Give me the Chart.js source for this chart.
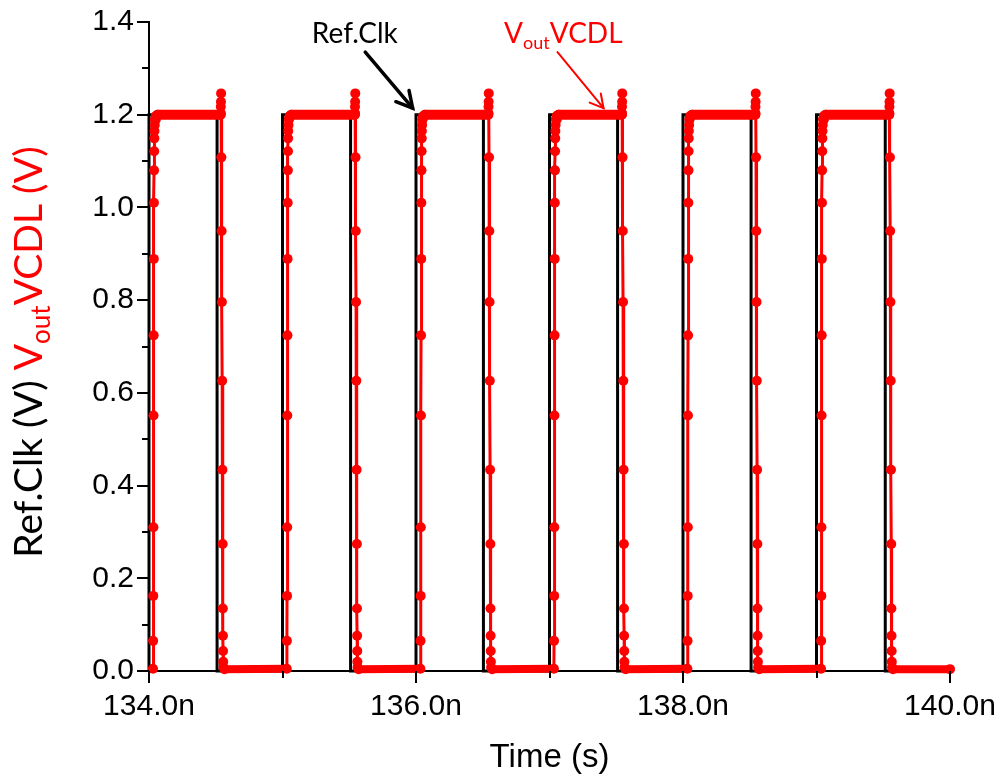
<!DOCTYPE html>
<html><head><meta charset="utf-8">
<script src="https://cdn.jsdelivr.net/npm/chart.js@4.4.1/dist/chart.umd.min.js"></script>
<style>html,body{margin:0;padding:0;background:#fff;}#wrap{position:relative;width:1001px;height:780px;}</style>
</head><body><div id="wrap"><canvas id="c" width="1001" height="780"></canvas></div>
<script>
// ---- data ----
const xMajorTicks = [134, 136, 138, 140];
const xMinorTicks = [135, 137, 139];
const xTickLabels = ['134.0n', '136.0n', '138.0n', '140.0n'];
const yTickValues = [0.0, 0.2, 0.4, 0.6, 0.8, 1.0, 1.2, 1.4];
const yTickLabels = ['0.0', '0.2', '0.4', '0.6', '0.8', '1.0', '1.2', '1.4'];
const yMinorTicks = [0.1, 0.3, 0.5, 0.7, 0.9, 1.1, 1.3];

// Ref.Clk square wave edges (ns) and levels (V)
const clkRise = [134.0, 135.0, 136.0, 137.0, 138.0, 139.0];
const clkFall = [134.51, 135.51, 136.505, 137.51, 138.51, 139.515];
const clkHigh = 1.2;
const clkLow = 0.0;

// VoutVCDL edges (ns) and measured edge shapes (offset ns, value V)
const vcdlRise = [134.030, 135.032, 136.033, 137.033, 138.033, 139.034];
const vcdlFall = [134.540, 135.545, 136.545, 137.545, 138.545, 139.548];
const riseDt = [0, 0.001, 0.002, 0.003, 0.004, 0.005, 0.006, 0.007, 0.008, 0.009, 0.010, 0.011, 0.013, 0.016, 0.022, 0.035];
const riseV  = [0.005, 0.065, 0.162, 0.31, 0.551, 0.724, 0.889, 1.01, 1.08, 1.121, 1.149, 1.165, 1.178, 1.19, 1.197, 1.2];
const fallDt = [-0.004, -0.003, -0.002, -0.001, 0, 0.002, 0.004, 0.006, 0.008, 0.010, 0.012, 0.013, 0.014, 0.015, 0.016, 0.018, 0.025];
const fallV  = [1.2, 1.203, 1.217, 1.228, 1.246, 1.108, 0.949, 0.796, 0.626, 0.434, 0.274, 0.135, 0.076, 0.043, 0.02, 0.008, 0.004];
const vcdlLow = 0.004;
const xMin = 134, xMax = 140;

// ---- build series ----
const clkData = [];
clkRise.forEach((r, i) => {
  clkData.push({x: r, y: clkLow}, {x: r, y: clkHigh}, {x: clkFall[i], y: clkHigh}, {x: clkFall[i], y: clkLow});
});
clkData.push({x: xMax, y: clkLow});

const vcdlData = [];
vcdlRise.forEach((r, i) => {
  riseDt.forEach((d, k) => vcdlData.push({x: +(r + d).toFixed(4), y: riseV[k]}));
  fallDt.forEach((d, k) => vcdlData.push({x: +(vcdlFall[i] + d).toFixed(4), y: fallV[k]}));
});
vcdlData.push({x: xMax, y: vcdlLow});

const RED = '#ff0000';

const decor = {
  id: 'decor',
  afterDraw(chart) {
    const {ctx, scales: {x, y}} = chart;
    ctx.save();
    // tick marks
    ctx.strokeStyle = '#000'; ctx.lineWidth = 2; ctx.lineCap = 'butt';
    const tick = (x1, y1, x2, y2) => { ctx.beginPath(); ctx.moveTo(x1, y1); ctx.lineTo(x2, y2); ctx.stroke(); };
    xMajorTicks.forEach(v => { const p = Math.round(x.getPixelForValue(v)); tick(p, y.bottom, p, y.bottom + 12); });
    xMinorTicks.forEach(v => { const p = Math.round(x.getPixelForValue(v)); tick(p, y.bottom, p, y.bottom + 7); });
    yTickValues.forEach(v => { const p = Math.round(y.getPixelForValue(v)); tick(x.left - 12, p, x.left, p); });
    yMinorTicks.forEach(v => { const p = Math.round(y.getPixelForValue(v)); tick(x.left - 7, p, x.left, p); });

    // annotation arrows
    const arrow = (tx, ty, hx, hy, color, w, head) => {
      const x0 = x.getPixelForValue(tx), y0 = y.getPixelForValue(ty);
      const x1 = x.getPixelForValue(hx), y1 = y.getPixelForValue(hy);
      ctx.strokeStyle = color; ctx.lineWidth = w; ctx.lineCap = 'round'; ctx.lineJoin = 'miter';
      tick(x0, y0, x1, y1);
      const a = Math.atan2(y1 - y0, x1 - x0);
      ctx.beginPath();
      ctx.moveTo(x1 - head * Math.cos(a - 0.5), y1 - head * Math.sin(a - 0.5));
      ctx.lineTo(x1, y1);
      ctx.lineTo(x1 - head * Math.cos(a + 0.5), y1 - head * Math.sin(a + 0.5));
      ctx.stroke();
    };
    arrow(135.62, 1.335, 135.975, 1.214, '#000', 3.5, 18);
    arrow(137.06, 1.335, 137.405, 1.214, RED, 2, 15);

    // annotation texts
    ctx.textBaseline = 'alphabetic'; ctx.textAlign = 'left';
    ctx.font = '28px Lato';
    ctx.fillStyle = '#000';
    ctx.fillText('Ref.Clk', x.getPixelForValue(135.22), y.getPixelForValue(1.355));
    let px = x.getPixelForValue(136.66), py = y.getPixelForValue(1.355);
    ctx.fillStyle = RED;
    ctx.fillText('V', px, py); px += ctx.measureText('V').width;
    ctx.font = '18px Lato'; ctx.fillText('out', px, py + 6); px += ctx.measureText('out').width;
    ctx.font = '28px Lato'; ctx.fillText('VCDL', px, py);

    // y axis title (rotated, two colours)
    ctx.translate(42, 352); ctx.rotate(-Math.PI / 2);
    const parts = [
      {t: 'Ref.Clk (V) ', c: '#000', f: '39px Lato', dy: 0},
      {t: 'V', c: RED, f: '39px Lato', dy: 0},
      {t: 'out', c: RED, f: '26px Lato', dy: 8},
      {t: 'VCDL (V)', c: RED, f: '39px Lato', dy: 0}
    ];
    let total = 0;
    parts.forEach(p => { ctx.font = p.f; p.w = ctx.measureText(p.t).width; total += p.w; });
    let cx = -total / 2;
    parts.forEach(p => { ctx.font = p.f; ctx.fillStyle = p.c; ctx.fillText(p.t, cx, p.dy); cx += p.w; });
    ctx.restore();
  }
};

new Chart(document.getElementById('c'), {
  type: 'line',
  data: {
    datasets: [
      {
        label: 'VoutVCDL', data: vcdlData, order: 0,
        borderColor: RED, backgroundColor: RED, borderWidth: 3,
        pointRadius: 5, pointBackgroundColor: RED, pointBorderWidth: 0,
        borderJoinStyle: 'round', borderCapStyle: 'round', tension: 0, clip: false,
        segment: {
          borderWidth: c => Math.abs(c.p0.parsed.y - c.p1.parsed.y) < 0.01 ? (c.p0.parsed.y > 0.6 ? 10 : 8) : 3
        }
      },
      {
        label: 'Ref.Clk', data: clkData, order: 1,
        borderColor: '#000', borderWidth: 3, pointRadius: 0, tension: 0,
        borderJoinStyle: 'miter', clip: false
      }
    ]
  },
  options: {
    responsive: false, animation: false, events: [],
    layout: {padding: {top: 22, right: 51, left: 0, bottom: 0}},
    plugins: {legend: {display: false}, tooltip: {enabled: false}},
    scales: {
      x: {
        type: 'linear', min: xMin, max: xMax,
        afterFit: s => { s.height = 109; s.paddingLeft = 0; s.paddingRight = 0; },
        afterBuildTicks: s => { s.ticks = xMajorTicks.map(v => ({value: v})); },
        ticks: {
          callback: (v) => { const i = xMajorTicks.indexOf(v); return i >= 0 ? xTickLabels[i] : ''; },
          font: {family: 'Liberation Sans', size: 30}, color: '#000', padding: 18, maxRotation: 0, autoSkip: false
        },
        grid: {display: true, drawOnChartArea: false, drawTicks: false},
        border: {display: true, color: '#000', width: 2},
        title: {display: true, text: 'Time (s)', color: '#000', font: {family: 'Liberation Sans', size: 33}, padding: {top: 0, bottom: 2}}
      },
      y: {
        type: 'linear', min: 0, max: 1.4,
        afterFit: s => { s.width = 149; s.paddingTop = 0; s.paddingBottom = 0; },
        afterBuildTicks: s => { s.ticks = yTickValues.map(v => ({value: v})); },
        ticks: {
          callback: (v) => { const i = yTickValues.findIndex(t => Math.abs(t - v) < 1e-6); return i >= 0 ? yTickLabels[i] : ''; },
          font: {family: 'Liberation Sans', size: 30}, color: '#000', padding: 15, autoSkip: false
        },
        grid: {display: true, drawOnChartArea: false, drawTicks: false},
        border: {display: true, color: '#000', width: 2}
      }
    }
  },
  plugins: [decor]
});
</script></body></html>
